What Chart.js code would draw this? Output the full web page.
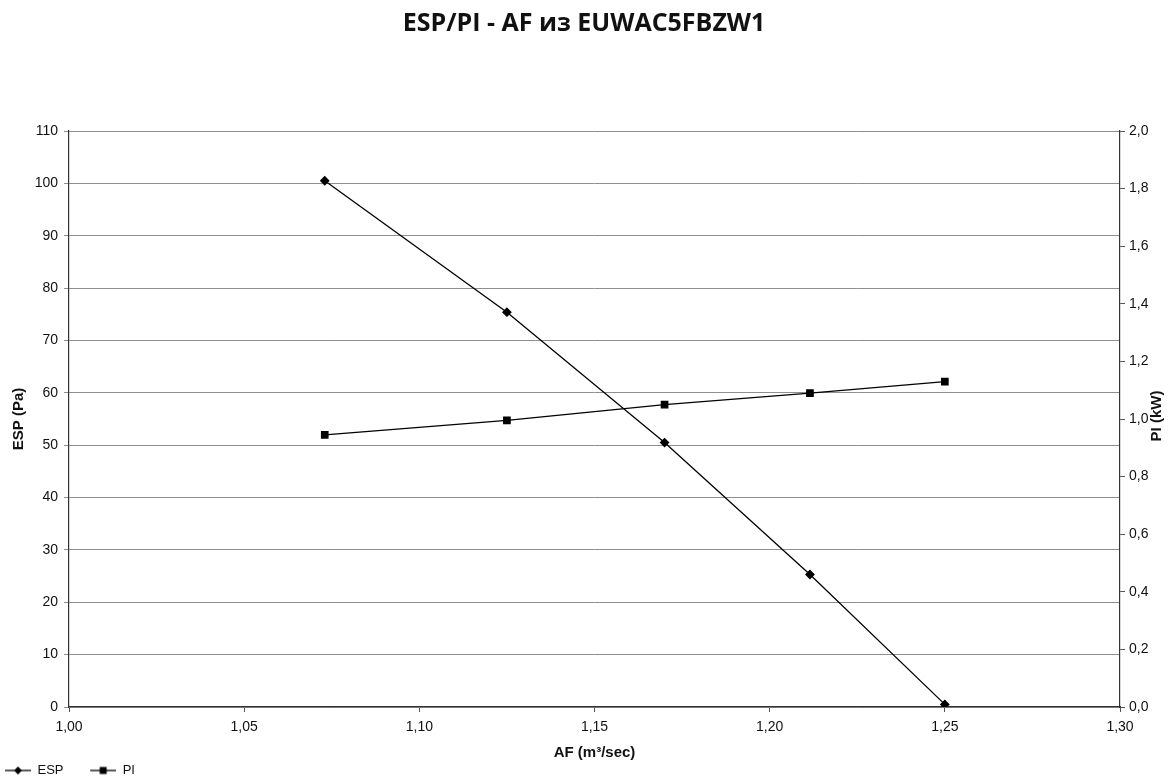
<!DOCTYPE html>
<html>
<head>
<meta charset="utf-8">
<script src="https://cdn.jsdelivr.net/npm/chart.js@4.4.1/dist/chart.umd.min.js"></script>
<style>
  html, body { margin: 0; padding: 0; background: #fff; }
  #wrap { width: 1168px; height: 776px; }
</style>
</head>
<body>
<div id="wrap"><canvas id="chart"></canvas></div>
<script>
// values
const afValues = [1.073, 1.125, 1.17, 1.2115, 1.25];
const espValues = [100.5, 75.4, 50.5, 25.3, 0.5];
const piValues = [0.945, 0.995, 1.05, 1.09, 1.13];

const xTicks = [1.00, 1.05, 1.10, 1.15, 1.20, 1.25, 1.30];

const titleText = 'ESP/PI - AF из EUWAC5FBZW1';
const fontSans = '"Liberation Sans", Arial, sans-serif';

// legend glyphs: short line with the marker in the middle
function legendGlyph(kind) {
  const c = document.createElement('canvas');
  c.width = 31; c.height = 10;
  const g = c.getContext('2d');
  g.strokeStyle = '#000';
  g.lineWidth = 1.3;
  g.beginPath(); g.moveTo(5, 5); g.lineTo(31, 5); g.stroke();
  g.fillStyle = '#000';
  if (kind === 'diamond') {
    g.beginPath(); g.moveTo(18, 1); g.lineTo(22, 5); g.lineTo(18, 9); g.lineTo(14, 5); g.closePath(); g.fill();
  } else {
    g.fillRect(14.5, 1.5, 7, 7);
  }
  return c;
}

const espData = afValues.map((x, i) => ({ x: x, y: espValues[i] }));
const piData = afValues.map((x, i) => ({ x: x, y: piValues[i] }));

const comma = (v, d) => Number(v).toFixed(d).replace('.', ',');

// right axis title reads bottom-to-top, so draw it by hand
const rightTitle = {
  id: 'rightTitle',
  afterDraw(chart) {
    const ctx = chart.ctx;
    ctx.save();
    ctx.translate(1157, 416);
    ctx.rotate(-Math.PI / 2);
    ctx.font = 'bold 15px ' + fontSans;
    ctx.fillStyle = '#111';
    ctx.textAlign = 'center';
    ctx.textBaseline = 'middle';
    ctx.fillText('PI (kW)', 0, 0);
    ctx.restore();
  }
};

new Chart(document.getElementById('chart'), {
  type: 'line',
  data: {
    datasets: [
      {
        label: 'ESP',
        data: espData,
        yAxisID: 'y',
        borderColor: '#000',
        backgroundColor: '#000',
        borderWidth: 1.3,
        pointStyle: 'rectRot',
        pointRadius: 4,
        pointHoverRadius: 4,
        tension: 0
      },
      {
        label: 'PI',
        data: piData,
        yAxisID: 'y2',
        borderColor: '#000',
        backgroundColor: '#000',
        borderWidth: 1.3,
        pointStyle: 'rect',
        pointRadius: 4.5,
        pointHoverRadius: 4.5,
        tension: 0
      }
    ]
  },
  options: {
    responsive: true,
    maintainAspectRatio: false,
    animation: false,
    layout: { padding: { top: 0, right: 0, bottom: -11, left: 0 } },
    plugins: {
      title: {
        display: true,
        text: titleText,
        color: '#111',
        font: { family: '"Open Sans", "Noto Sans", sans-serif', size: 25, weight: 'bold' },
        padding: { top: 9, bottom: 92 }
      },
      legend: {
        display: true,
        position: 'bottom',
        align: 'start',
        labels: {
          color: '#111',
          font: { family: fontSans, size: 13 },
          usePointStyle: true,
          pointStyleWidth: 31,
          padding: 0,
          generateLabels(chart) {
            return chart.data.datasets.map((ds, i) => ({
              text: i === 0 ? ds.label + '      ' : ds.label,
              pointStyle: legendGlyph(i === 0 ? 'diamond' : 'square'),
              fillStyle: '#000',
              strokeStyle: '#000',
              lineWidth: 0,
              datasetIndex: i,
              fontColor: '#111'
            }));
          }
        }
      },
      tooltip: { enabled: false }
    },
    scales: {
      x: {
        type: 'linear',
        min: 1.0,
        max: 1.3,
        afterBuildTicks(scale) { scale.ticks = xTicks.map(v => ({ value: v })); },
        afterFit(scale) { scale.height = 57; },
        ticks: {
          color: '#111',
          font: { family: fontSans, size: 14 },
          padding: 7,
          maxRotation: 0,
          callback: v => comma(v, 2)
        },
        grid: { drawOnChartArea: false, drawTicks: true, tickLength: 5, color: '#555' },
        border: { color: '#333', width: 1.2 },
        title: {
          display: true,
          text: 'AF (m³/sec)',
          color: '#111',
          font: { family: fontSans, size: 15, weight: 'bold' },
          padding: { top: 2, bottom: 2 }
        }
      },
      y: {
        position: 'left',
        min: 0,
        max: 110,
        afterFit(scale) { scale.width = 69; },
        ticks: {
          stepSize: 10,
          color: '#111',
          font: { family: fontSans, size: 14 },
          padding: 6
        },
        grid: { color: '#8f8f8f', lineWidth: 1, tickLength: 5 },
        border: { color: '#333', width: 1.2 },
        title: {
          display: true,
          text: 'ESP (Pa)',
          color: '#111',
          font: { family: fontSans, size: 15, weight: 'bold' },
          padding: { top: 10, bottom: 0 }
        }
      },
      y2: {
        position: 'right',
        min: 0,
        max: 2,
        afterFit(scale) { scale.width = 48; },
        ticks: {
          stepSize: 0.2,
          color: '#111',
          font: { family: fontSans, size: 14 },
          padding: 4,
          callback: v => comma(v, 1)
        },
        grid: { drawOnChartArea: false, tickLength: 5, color: '#555' },
        border: { color: '#333', width: 1.2 }
      }
    }
  },
  plugins: [rightTitle]
});
</script>
</body>
</html>
